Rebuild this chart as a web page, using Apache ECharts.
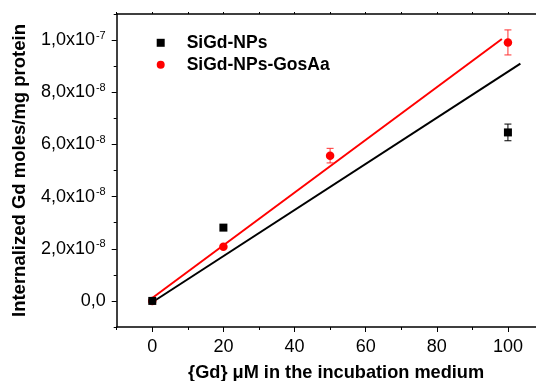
<!DOCTYPE html>
<html>
<head>
<meta charset="utf-8">
<script src="https://cdn.jsdelivr.net/npm/echarts@6/dist/echarts.min.js"></script>
<style>html,body{margin:0;padding:0;background:#fff}#c{width:536px;height:381px}</style>
</head>
<body>
<div id="c"></div>
<script>
// ---- data ----
const seriesNames = ['SiGd-NPs', 'SiGd-NPs-GosAa'];
const xBlack = [0, 20, 100];
const yBlack = [0, 2.81e-8, 6.46e-8];
const errBlack = [0, 0, 0.32e-8];
const xRed = [0, 20, 50, 100];
const yRed = [0, 2.08e-8, 5.57e-8, 9.91e-8];
const errRed = [0, 0, 0.28e-8, 0.48e-8];
const fitBlackX = [0, 103.5];
const fitBlackY = [-0.05e-8, 9.10e-8];
const fitRedX = [0, 98.3];
const fitRedY = [0.11e-8, 10.04e-8];
const xTicks = [0, 20, 40, 60, 80, 100];
const xMinorTicks = [-10, 10, 30, 50, 70, 90, 110];
const yTicks = [0, 2e-8, 4e-8, 6e-8, 8e-8, 1e-7];
const yMinorTicks = [-1e-8, 1e-8, 3e-8, 5e-8, 7e-8, 9e-8, 1.1e-7];
const topTicks = [-10, 0, 10, 20, 30, 40, 50, 60, 70, 80, 90, 100, 110];

const FONT = 'Liberation Sans, Arial, sans-serif';
const zip = (a, b) => a.map((v, i) => [v, b[i]]);
const errData = (xs, ys, es) => xs.map((x, i) => [x, ys[i] - es[i], ys[i] + es[i]]).filter((d, i) => es[i] > 0);

function yLabel(v) {
  if (Math.abs(v) < 1e-20) return '{m|0,0}';
  const e = Math.floor(Math.log10(Math.abs(v)) + 1e-9);
  const m = (v / Math.pow(10, e)).toFixed(1).replace('.', ',');
  return '{m|' + m + 'x10}{s|' + e + '}';
}

function errRender(color) {
  return function (params, api) {
    const x = api.value(0);
    const lo = api.coord([x, api.value(1)]);
    const hi = api.coord([x, api.value(2)]);
    const w = 3.5;
    const st = { stroke: color, lineWidth: 1 };
    return {
      type: 'group',
      children: [
        { type: 'line', shape: { x1: lo[0], y1: lo[1], x2: hi[0], y2: hi[1] }, style: st },
        { type: 'line', shape: { x1: lo[0] - w, y1: lo[1], x2: lo[0] + w, y2: lo[1] }, style: st },
        { type: 'line', shape: { x1: hi[0] - w, y1: hi[1], x2: hi[0] + w, y2: hi[1] }, style: st }
      ]
    };
  };
}

const chart = echarts.init(document.getElementById('c'), null, { renderer: 'canvas' });
const axisLineStyle = { color: '#000', width: 1.5 };
chart.setOption({
  animation: false,
  backgroundColor: '#fff',
  textStyle: { fontFamily: FONT },
  grid: { left: 116.7, top: 14, bottom: 54, right: -7.5, show: false, containLabel: false, outerBoundsMode: 'none' },
  legend: {
    orient: 'vertical', left: 156.7, top: 33.8, padding: 0,
    itemWidth: 8, itemHeight: 8, itemGap: 4,
    textStyle: { fontFamily: FONT, fontWeight: 'bold', fontSize: 17.5, color: '#000', lineHeight: 17, padding: [0, 0, 0, 17] },
    data: [{ name: seriesNames[0], icon: 'rect' }, { name: seriesNames[1], icon: 'circle' }]
  },
  xAxis: [{
    type: 'value', min: -10, max: 110, position: 'bottom',
    name: '{Gd} μM in the incubation medium', nameLocation: 'middle', nameGap: 36.5,
    nameTextStyle: { fontFamily: FONT, fontWeight: 'bold', fontSize: 18.2, color: '#000', padding: [0, 0, 0, 12] },
    axisLine: { onZero: false, lineStyle: axisLineStyle },
    axisTick: { customValues: xTicks, length: 5, lineStyle: { color: '#000', width: 1 } },
    axisLabel: { customValues: xTicks, fontFamily: FONT, fontSize: 18, color: '#000', margin: 11 },
    splitLine: { show: false }
  }, {
    type: 'value', min: -10, max: 110, position: 'bottom',
    axisLine: { show: false, onZero: false },
    axisTick: { customValues: xMinorTicks, length: 3, lineStyle: { color: '#000', width: 1 } },
    axisLabel: { show: false }, splitLine: { show: false }
  }, {
    type: 'value', min: -10, max: 110, position: 'top',
    axisLine: { onZero: false, lineStyle: axisLineStyle },
    axisTick: { customValues: topTicks, length: 2, lineStyle: { color: '#000', width: 1 } },
    axisLabel: { show: false }, splitLine: { show: false }
  }],
  yAxis: [{
    type: 'value', min: -1e-8, max: 1.1e-7, position: 'left',
    name: 'Internalized Gd moles/mg protein', nameLocation: 'middle', nameGap: 87.5,
    nameTextStyle: { fontFamily: FONT, fontWeight: 'bold', fontSize: 18.5, color: '#000' },
    axisLine: { onZero: false, lineStyle: axisLineStyle },
    axisTick: { customValues: yTicks, length: 5, lineStyle: { color: '#000', width: 1 } },
    axisLabel: {
      customValues: yTicks, margin: 11, formatter: yLabel,
      rich: {
        m: { fontFamily: FONT, fontSize: 18, color: '#000', lineHeight: 20 },
        s: { fontFamily: FONT, fontSize: 11, color: '#000', verticalAlign: 'top', lineHeight: 11, padding: [0, 0, 0, 1] }
      }
    },
    splitLine: { show: false }
  }, {
    type: 'value', min: -1e-8, max: 1.1e-7, position: 'left',
    axisLine: { show: false, onZero: false },
    axisTick: { customValues: yMinorTicks, length: 3, lineStyle: { color: '#000', width: 1 } },
    axisLabel: { show: false }, splitLine: { show: false }
  }],
  series: [
    { type: 'line', xAxisIndex: 0, yAxisIndex: 0, data: zip(fitBlackX, fitBlackY), symbol: 'none', lineStyle: { color: '#000', width: 2 }, z: 2, silent: true },
    { type: 'line', xAxisIndex: 0, yAxisIndex: 0, data: zip(fitRedX, fitRedY), symbol: 'none', lineStyle: { color: '#ff0000', width: 2 }, z: 3, silent: true },
    { type: 'custom', xAxisIndex: 0, yAxisIndex: 0, renderItem: errRender('#000'), data: errData(xBlack, yBlack, errBlack), z: 4, encode: { x: 0, y: [1, 2] } },
    { type: 'custom', xAxisIndex: 0, yAxisIndex: 0, renderItem: errRender('#ff3030'), data: errData(xRed, yRed, errRed), z: 5, encode: { x: 0, y: [1, 2] } },
    { name: seriesNames[1], type: 'scatter', xAxisIndex: 0, yAxisIndex: 0, data: zip(xRed, yRed), symbol: 'circle', symbolSize: 8.5, itemStyle: { color: '#ff0000', opacity: 1 }, z: 6 },
    { name: seriesNames[0], type: 'scatter', xAxisIndex: 0, yAxisIndex: 0, data: zip(xBlack, yBlack), symbol: 'rect', symbolSize: 8, itemStyle: { color: '#000', opacity: 1 }, z: 7 }
  ]
});
</script>
</body>
</html>
